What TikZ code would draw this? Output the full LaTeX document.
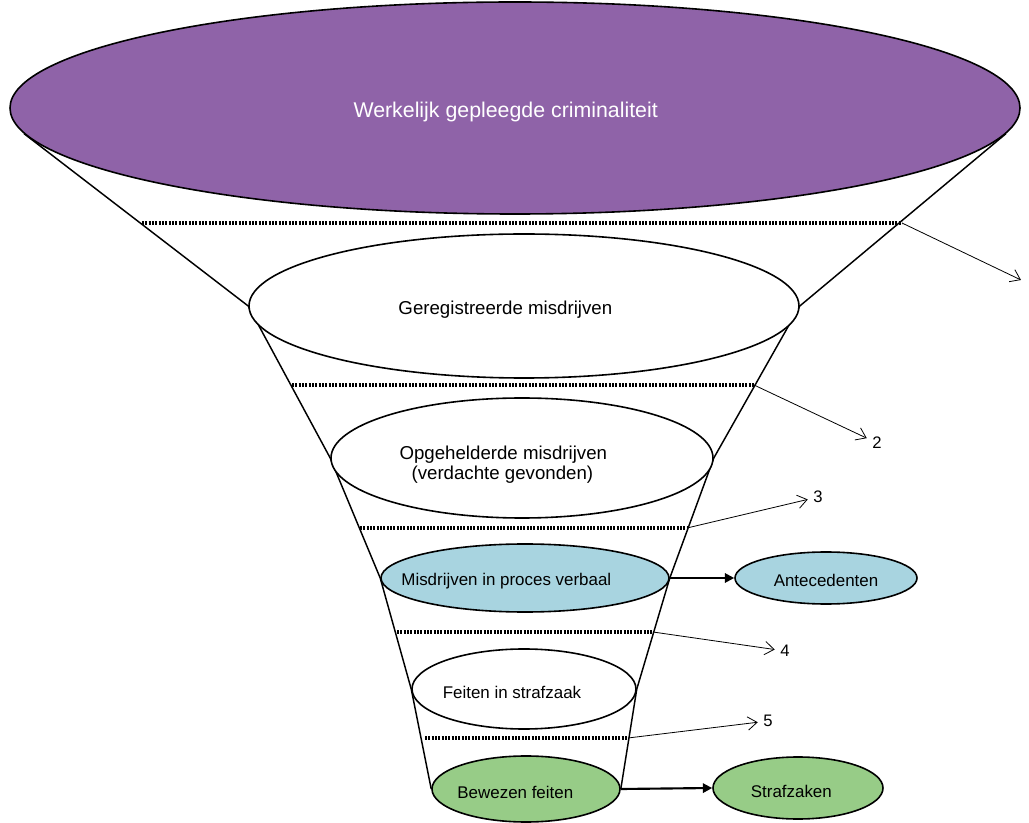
\documentclass[tikz,border=0pt]{standalone}
\usepackage{fontspec}
\setmainfont{Liberation Sans}
\usetikzlibrary{shapes.geometric,arrows.meta,backgrounds}
\definecolor{funpurple}{RGB}{143,99,168}
\definecolor{funblue}{RGB}{168,212,224}
\definecolor{fungreen}{RGB}{151,204,135}
\tikzset{
  ell/.style={ellipse, draw, line width=1.2pt, inner sep=0pt, fill=white},
  lbl/.style={inner sep=0pt, text=black},
  funnel/.style={line width=1.1pt},
  dots/.style={line width=2.6pt, dash pattern=on 1.6pt off 0.9pt},
  thinarr/.style={line width=0.6pt, -{Straight Barb[length=7pt,width=10pt]}},
  thickarr/.style={line width=1.6pt, -{Triangle[length=7pt,width=7pt]}},
  numlbl/.style={inner xsep=4pt, inner ysep=1pt, font=\fontsize{12.5}{14}\selectfont},
}
\begin{document}
\begin{tikzpicture}[x=0.75pt,y=-0.75pt]
\useasboundingbox (0,0) rectangle (1029,823);
% ellipses
\node[ell, fill=funpurple, minimum width=757.5pt, minimum height=159pt,
  label={[lbl, text=white, xshift=-7pt, yshift=-3pt, font=\fontsize{16}{19}\selectfont]center:Werkelijk gepleegde criminaliteit}] (e1) at (515,108) {};
\node[ell, minimum width=412.5pt, minimum height=108pt,
  label={[lbl, xshift=-14pt, yshift=-3pt, font=\fontsize{14}{16}\selectfont]center:Geregistreerde misdrijven}] (e2) at (524,306) {};
\node[ell, minimum width=286.5pt, minimum height=90pt,
  label={[lbl, xshift=-14pt, yshift=-5pt, align=left, font=\fontsize{14}{15}\selectfont]center:Opgehelderde misdrijven\\\hspace*{9pt}(verdachte gevonden)}] (e3) at (522,458) {};
\node[ell, fill=funblue, minimum width=216pt, minimum height=51pt,
  label={[lbl, xshift=-14pt, yshift=-2.5pt, font=\fontsize{12.7}{14}\selectfont]center:Misdrijven in proces verbaal}] (e4) at (525,578) {};
\node[ell, minimum width=168pt, minimum height=60pt,
  label={[lbl, xshift=-9pt, yshift=-2.5pt, font=\fontsize{12.7}{14}\selectfont]center:Feiten in strafzaak}] (e5) at (524,689) {};
\node[ell, fill=fungreen, minimum width=141pt, minimum height=49.5pt,
  label={[lbl, xshift=-8pt, yshift=-2.5pt, font=\fontsize{12.7}{14}\selectfont]center:Bewezen feiten}] (e6) at (526,789) {};
\node[ell, fill=funblue, minimum width=136.5pt, minimum height=39pt,
  label={[lbl, yshift=-1.5pt, font=\fontsize{12.7}{14}\selectfont]center:Antecedenten}] (ant) at (826,578) {};
\node[ell, fill=fungreen, minimum width=127.5pt, minimum height=46.5pt,
  label={[lbl, xshift=-5pt, yshift=-2.5pt, font=\fontsize{12.7}{14}\selectfont]center:Strafzaken}] (straf) at (798,788) {};
% funnel sides
\begin{scope}[on background layer]
\draw[funnel] (e1.183.5) -- (e2.west) -- (e3.west) -- (e4.west) -- (e5.west) -- (e6.west);
\draw[funnel] (e1.357) -- (e2.east) -- (e3.east) -- (e4.east) -- (e5.east) -- (e6.east);
\end{scope}
% dotted levels
\coordinate (d1l) at (142,223); \coordinate (d1r) at (902,223);
\coordinate (d2l) at (292,385); \coordinate (d2r) at (754,385);
\coordinate (d3l) at (360,528); \coordinate (d3r) at (687,528);
\coordinate (d4l) at (397,632); \coordinate (d4r) at (653,632);
\coordinate (d5l) at (425,738); \coordinate (d5r) at (628,738);
\draw[dots] (d1l) -- (d1r);
\draw[dots] (d2l) -- (d2r);
\draw[dots] (d3l) -- (d3r);
\draw[dots] (d4l) -- (d4r);
\draw[dots] (d5l) -- (d5r);
% labels
\node[numlbl] (n2) at (877,443) {2};
\node[numlbl] (n3) at (818,497) {3};
\node[numlbl] (n4) at (785,651) {4};
\node[numlbl] (n5) at (768,721) {5};
\coordinate (a1) at (1021,280);
\draw[thinarr] (d1r) -- (a1);
\draw[thinarr] (d2r) -- (n2);
\draw[thinarr] (d3r) -- (n3);
\draw[thinarr] (d4r) -- (n4);
\draw[thinarr] (d5r) -- (n5);
% thick arrows
\draw[thickarr] (e4.east) -- (ant.west);
\draw[thickarr] (e6.east) -- (straf.west);
\end{tikzpicture}
\end{document}
